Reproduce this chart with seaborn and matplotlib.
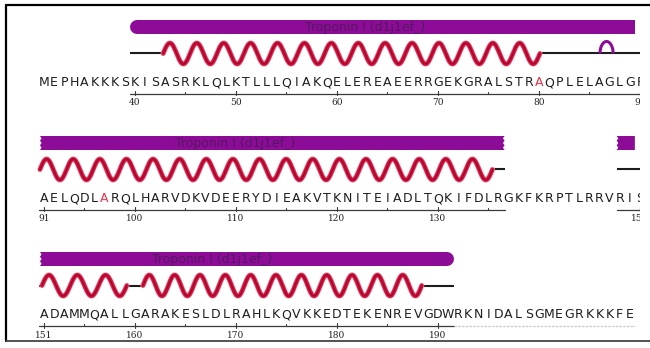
import numpy as np
import pandas as pd
import matplotlib.pyplot as plt
from matplotlib.lines import Line2D
from matplotlib.patches import Polygon
import seaborn as sns

# ---- data (residue numbering of the construct) ----
sequence = ("MEPHAKKKSKISASRKLQLKTLLLQIAKQELEREAEERRGEKGRALSTRAQPLELAGLGF"
            "AELQDLARQLHARVDKVDEERYDIEAKVTKNITEIADLTQKIFDLRGKFKRPTLRRVRIS"
            "ADAMMQALLGARAKESLDLRAHLKQVKKEDTEKENREVGDWRKNIDALSGMEGRKKKFE")
first_residue = 31
row_starts = [31, 91, 151]
row_ends = [90, 150, 209]
mutated = [80, 97]

domain_name = "Troponin I (d1j1ef_)"
domain_range = (39.5, 191.6)
domain_gaps = [(136.6, 147.7)]
helices = [(42.8, 80.1), (90.6, 135.4), (150.8, 159.2), (160.8, 188.4)]
turns = [(86.05, 87.35)]
label_pos = [62.8, 109.9, 167.6]

# ---- layout / style ----
W, H = 650, 348
PX_PER_RES = 10.1
X0 = 44            # pixel x of the first residue of every row
CLIP_X = 640
ROW_H = 116
BAR_Y, HELIX_Y, SEQ_Y, RULER_Y, NUM_Y = 27, 53.5, 83, 94, 103
BAR_H = 14
HELIX_AMP = 10.5
HELIX_PERIOD = 2.6   # residues per drawn turn

PURPLE = "#8c0c97"
CRIMSON = "#d0123d"
DARK_RED = "#9a0a2c"
RED_TXT = "#e8354a"


def subtract(intervals, cuts):
    out = []
    for a, b in intervals:
        pieces = [(a, b)]
        for c, d in cuts:
            new = []
            for p, q in pieces:
                if d <= p or c >= q:
                    new.append((p, q))
                else:
                    if c > p:
                        new.append((p, c))
                    if d < q:
                        new.append((d, q))
            pieces = new
        out.extend(pieces)
    return out


def clip(intervals, lo, hi):
    res = []
    for a, b in intervals:
        a2, b2 = max(a, lo), min(b, hi)
        if b2 > a2:
            res.append((a2, b2))
    return res


def draw_bar(ax, a, b, left, right):
    r = BAR_H / 2 / PX_PER_RES
    y0, y1 = BAR_Y - BAR_H / 2, BAR_Y + BAR_H / 2
    t = 0.16
    a_in = a + r if left == "round" else a
    b_in = b - r if right == "round" else b
    ys = np.linspace(y0, y1, 7)
    pts = []
    for i, y in enumerate(ys):
        dx = t if (left == "jag" and i % 2 == 1) else 0
        pts.append((a_in + dx, y))
    for i, y in enumerate(ys[::-1]):
        dx = -t if (right == "jag" and i % 2 == 1) else 0
        pts.append((b_in + dx, y))
    ax.add_patch(Polygon(pts, closed=True, facecolor=PURPLE, edgecolor="none"))
    lw = BAR_H * 72 / 100
    if left == "round":
        ax.plot([a_in, a_in + 0.3], [BAR_Y, BAR_Y], color=PURPLE, lw=lw,
                solid_capstyle="round")
    if right == "round":
        ax.plot([b_in - 0.3, b_in], [BAR_Y, BAR_Y], color=PURPLE, lw=lw,
                solid_capstyle="round")


sns.set_style("white")
plt.rcParams["font.family"] = ["DejaVu Sans"]

fig = plt.figure(figsize=(W / 100, H / 100), dpi=100)
fig.patch.set_facecolor("white")

domain_pieces = subtract([domain_range], domain_gaps)
coil_pieces = subtract(domain_pieces, helices)

for k, (start, end) in enumerate(zip(row_starts, row_ends)):
    top = k * ROW_H
    ax = fig.add_axes([0, 1 - (top + ROW_H) / H, CLIP_X / W, ROW_H / H])
    lo = start - X0 / PX_PER_RES
    hi = start + (CLIP_X - X0) / PX_PER_RES

    # domain bar
    for a, b in clip(domain_pieces, start - 0.4, end - 0.5):
        left = "round" if a == domain_range[0] else "jag"
        if b == domain_range[1]:
            right = "round"
        elif b == end - 0.5:
            right = "flat"
        else:
            right = "jag"
        draw_bar(ax, a, b, left, right)
    ax.text(label_pos[k], BAR_Y + 0.5, domain_name, ha="center", va="center",
            fontsize=9, color="#561760")

    # coil
    for a, b in clip(coil_pieces, start - 0.45, end + 1.5):
        ax.plot([a, b], [HELIX_Y, HELIX_Y], color="#1c1c1c", lw=1.5,
                solid_capstyle="butt")

    # helices
    rows = []
    for i, (a, b) in enumerate(helices):
        if b <= start - 0.5 or a >= end + 1.5:
            continue
        n_turns = max(1, round((b - a) / HELIX_PERIOD))
        xs = np.linspace(a, b, 400)
        ys = HELIX_Y - HELIX_AMP * np.sin(2 * np.pi * n_turns * (xs - a) / (b - a))
        rows.append(pd.DataFrame({"res": xs, "y": ys, "seg": i}))
    if rows:
        hdf = pd.concat(rows)
        sns.lineplot(data=hdf, x="res", y="y", units="seg", estimator=None,
                     sort=False, color="#f08aa2", lw=3.8, ax=ax, legend=False)
        sns.lineplot(data=hdf, x="res", y="y", units="seg", estimator=None,
                     sort=False, color=CRIMSON, lw=2.8, ax=ax, legend=False)
        sns.lineplot(data=hdf, x="res", y="y", units="seg", estimator=None,
                     sort=False, color=DARK_RED, lw=0.8, ax=ax, legend=False)

    # turns
    for a, b in turns:
        if b <= start or a >= end + 1:
            continue
        th = np.linspace(0, np.pi, 60)
        c, w = (a + b) / 2, (b - a) / 2
        ax.plot(c + w * np.cos(th), HELIX_Y - 12 * np.sin(th), color=PURPLE,
                lw=2.2, solid_capstyle="butt")

    # sequence letters
    for res in range(start, end + 1):
        ch = sequence[res - first_residue]
        ax.text(res, SEQ_Y, ch, ha="center", va="center", fontsize=9,
                color=RED_TXT if res in mutated else "#1e1e1e", clip_on=True)

    # ruler
    ruler = clip(domain_pieces, start - 0.5, end + 0.5)
    for a, b in ruler:
        ax.plot([a, b], [RULER_Y, RULER_Y], color="#3a3a3a", lw=0.9)
        for t in range(int(np.ceil(a)), int(np.floor(b)) + 1):
            if t % 10 == 0 or t == start:
                ax.plot([t, t], [RULER_Y - 3, RULER_Y + 1.5], color="#3a3a3a", lw=0.8)
                ax.text(t, NUM_Y, str(t), ha="center", va="center", fontsize=6.5,
                        family="DejaVu Serif", color="#222222", clip_on=True)
            elif t % 5 == 0:
                ax.plot([t, t], [RULER_Y - 2, RULER_Y], color="#3a3a3a", lw=0.8)
    # faint ruler past the domain end
    for a, b in clip([(domain_range[1], 1e4)], start - 0.5, end + 0.5):
        ax.plot([a, b], [RULER_Y, RULER_Y], color="#c8c8c8", lw=0.9, ls=(0, (2, 1)))

    ax.set_xlim(lo, hi)
    ax.set_ylim(ROW_H, 0)
    ax.axis("off")

# frame lines
fig.add_artist(Line2D([6 / W, 1], [1 - 5 / H] * 2, color="black", lw=1.6))
fig.add_artist(Line2D([6 / W] * 2, [1 - 5 / H, 1 - 341 / H], color="black", lw=1.6))
fig.add_artist(Line2D([6 / W, 1], [1 - 341 / H] * 2, color="#444444", lw=1.3))

fig.savefig("out.png", dpi=100, facecolor="white")
